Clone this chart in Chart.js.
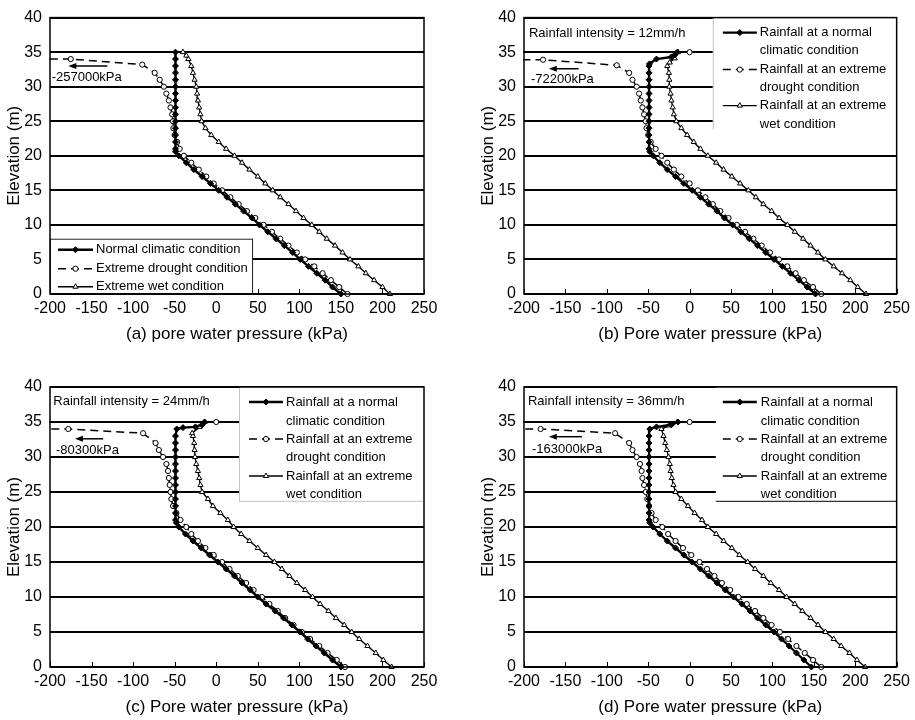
<!DOCTYPE html>
<html>
<head>
<meta charset="utf-8">
<script src="https://cdn.jsdelivr.net/npm/chart.js"></script>
<style>
  body { margin: 0; background: #fff; width: 915px; height: 720px; position: relative; overflow: hidden; }
  canvas { position: absolute; }
</style>
</head>
<body>
<canvas id="ca" width="455" height="360" style="left:0;top:0"></canvas>
<canvas id="cb" width="460" height="360" style="left:455px;top:0"></canvas>
<canvas id="cc" width="455" height="360" style="left:0;top:360px"></canvas>
<canvas id="cd" width="460" height="360" style="left:455px;top:360px"></canvas>
<script>
// ticks
const xTicks = [-200, -150, -100, -50, 0, 50, 100, 150, 200, 250];
const yTicks = [0, 5, 10, 15, 20, 25, 30, 35, 40];

const xTitles = ['(a) pore water pressure (kPa)', '(b) Pore water pressure (kPa)',
                 '(c) Pore water pressure (kPa)', '(d) Pore water pressure (kPa)'];
const intensities = ['', 'Rainfall intensity = 12mm/h', 'Rainfall intensity = 24mm/h', 'Rainfall intensity = 36mm/h'];
const farValues = [-257000, -72200, -80300, -163000];   // kPa, off the left edge

const legendA = ['Normal climatic condition', 'Extreme drought condition', 'Extreme wet condition'];
const legendRain = [['Rainfall at a normal', 'climatic condition'],
                    ['Rainfall at an extreme', 'drought condition'],
                    ['Rainfall at an extreme', 'wet condition']];

// (a) no rainfall
const aNormE = [0,1,2,3,4,5,6,7,8,9,10,11,12,13,14,15,16,17,18,19,20,20.6,21,22,23,24,25,26,27,28,29,30,31,32,33,34,35];
const aNormP = [150,140,131,121,111,101,92,82,72,62,52,43,33,23,13,3,-7,-17,-27,-36,-45,-49,-49,-49,-49,-49,-49,-49,-49,-49,-49,-49,-49,-49,-49,-49,-49];
const aDryE = [0,1,2,3,4,5,6,7,8,9,10,11,12,13,14,15,16,17,18,19,20,21,22,23,24,25,26,27,28,29,30,31,32,33.2,34,35];
const aDryP = [158,148,138,128,118,107,97,87,77,67,57,47,37,27,17,7,-3,-12,-21,-30,-39,-44,-47,-50,-51.5,-52,-53,-55,-57,-60,-63,-68,-74,-89,-175,-257000];
const aWetE = [0,1,2,3,4,5,6,7,8,9,10,11,12,13,14,15,16,17,18,19,20,21,22,23,24,25,26,27,28,29,30,31,32,33,34,34.5,35];
const aWetP = [209,200,190,180,171,161,152,143,133,124,115,105,96,87,77,68,59,50,40,31,22,12,3,-6,-13,-17.5,-19,-20.5,-22,-23,-24,-26,-28,-30,-33.5,-36,-40];

// (b) 12 mm/h
const bNormE = [0,1,2,3,4,5,6,7,8,9,10,11,12,13,14,15,16,17,18,19,20,20.6,21,22,23,24,25,26,27,28,29,30,31,32,33,33.3,34,34.3,34.6,35];
const bNormP = [152,142,132,122,112,102,92,82,72,62,52,42,33,23,13,3,-7,-17,-27,-36,-44,-48,-49,-49,-49,-49,-49,-49,-49,-49,-49,-49,-49,-49,-49,-48.5,-40,-22,-18,-15];
const bDryE = [0,1,2,3,4,5,6,7,8,9,10,11,12,13,14,15,16,17,18,19,20,21,22,23,24,25,26,27,28,29,30,31,32,33.1,33.9,34.6,35];
const bDryP = [159,149,138,128,118,108,97,87,77,67,57,47,37,28,19,10,0,-10,-19,-27,-34,-41,-47,-50,-52,-53,-55,-57,-59,-61,-64,-69,-73,-88,-177,-72200,0];
const bWetE = [0,1,2,3,4,5,6,7,8,9,10,11,12,13,14,15,16,17,18,19,20,21,22,23,24,25,26,27,28,29,30,31,32,33,33.5,34.1,35];
const bWetP = [213,203,194,184,174,164,155,146,137,127,118,108,99,89,80,71,61,51,41,32,22,13,5,-3,-10,-16,-19,-20.5,-22,-23,-24.5,-24.5,-25,-27,-24,-18,-14];

// (c) 24 mm/h
const cNormE = [0,1,2,3,4,5,6,7,8,9,10,11,12,13,14,15,16,17,18,19,20,20.6,21,22,23,24,25,26,27,28,29,30,31,32,33,34,34.2,34.3,34.6,35];
const cNormP = [150,140,130,120,110,101,91,81,71,60,50,41,31,22,12,2,-8,-18,-28,-37,-45,-48,-49,-49,-49,-49,-49,-49,-49,-49,-49,-49,-49,-49,-49,-47.5,-40,-25,-17,-14];
const cDryE = [0,1,2,3,4,5,6,7,8,9,10,11,12,13,14,15,16,17,18,19,20,21,22,23,24,25,26,27,28,29,30,31,32,33.4,34,34.6,35];
const cDryP = [155,145,134,124,113,103,93,83,74,64,55,45,36,26,16,7,-3,-13,-22,-30,-36,-43,-48,-52,-54,-55,-56,-57,-58,-60,-64,-69,-73,-88,-178,-80300,0];
const cWetE = [0,1,2,3,4,5,6,7,8,9,10,11,12,13,14,15,16,17,18,19,20,21,22,23,24,25,26,27,28,29,30,31,32,33,33.4,34.3,35];
const cWetP = [211,201,192,182,172,163,154,144,135,125,116,107,97,88,79,70,60,50,40,30,21,14,5,-4,-10,-17,-19,-20.5,-22,-24,-25.5,-26,-26.5,-28,-29,-20,-14];

// (d) 36 mm/h
const dNormE = [0,1,2,3,4,5,6,7,8,9,10,11,12,13,14,15,16,17,18,19,20,20.6,21,22,23,24,25,26,27,28,29,30,31,32,33,34,34.3,34.6,35];
const dNormP = [147,138,129,120,111,102,92,82,73,63,53,43,33,23,13,3,-7,-17,-27,-36,-44,-48,-49,-49,-49,-49,-49,-49,-49,-49,-49,-49,-49,-49,-49,-48,-40,-22,-14];
const dDryE = [0,1,2,3,4,5,6,7,8,9,10,11,12,13,14,15,16,17,18,19,20,21,22,23,24,25,26,27,28,29,30,31,32,33.4,34,34.6,35];
const dDryP = [159,149,139,129,119,109,99,89,79,69,59,49,39,30,21,12,2,-8,-17,-26,-33,-41,-46,-49,-51,-53,-55,-57,-58,-60,-64,-69,-73,-90,-180,-163000,0];
const dWetE = [0,1,2,3,4,5,6,7,8,9,10,11,12,13,14,15,16,17,18,19,20,21,22,23,24,25,26,27,28,29,30,31,32,33,34,34.5,35];
const dWetP = [212,202,193,183,174,164,155,146,136,127,117,108,98,89,79,70,60,51,41,32,22,15,6,-2,-10,-17,-19.5,-21.5,-23,-24,-25.5,-27.5,-29.5,-31.5,-34,-25,-15];

const series = [
  [[aNormP, aNormE], [aDryP, aDryE], [aWetP, aWetE]],
  [[bNormP, bNormE], [bDryP, bDryE], [bWetP, bWetE]],
  [[cNormP, cNormE], [cDryP, cDryE], [cWetP, cWetE]],
  [[dNormP, dNormE], [dDryP, dDryE], [dWetP, dWetE]]
];

// layout of each panel (box / text positions in data units)
const panels = [
  { id: 'ca', pad: {left: 0, right: 31, top: 15, bottom: 0}, xh: 66, xtp: 15,
    box: [-200, 0, 44.3, 8.0], borders: {l: '#222', r: '#222', t: '#222', b: '#222'},
    rowDy: [11, 30, 48], sx: [8, 43], tx: 46,
    ann: null, far: {x: -198, y: 31.4, ay: 33.0, a0: -131, a1: -178} },
  { id: 'cb', pad: {left: 19, right: 18, top: 15, bottom: 0}, xh: 66, xtp: 15,
    box: [28, 23.8, 250, 40], borders: {l: '#c4c4c4'},
    rowDy: [15, 33, 52, 70, 88, 107], sx: [10, 44], tx: 47,
    ann: {x: -194, y: 37.75}, far: {x: -191.6, y: 31.1, ay: 32.6, a0: -134, a1: -170} },
  { id: 'cc', pad: {left: 0, right: 31, top: 27, bottom: 0}, xh: 53, xtp: 2,
    box: [27.4, 23.6, 250, 40], borders: {l: '#c4c4c4', b: '#c4c4c4'},
    rowDy: [15, 34, 52, 70, 89, 107], sx: [10, 44], tx: 47,
    ann: {x: -196, y: 37.9}, far: {x: -192.8, y: 31.0, ay: 32.6, a0: -136, a1: -170} },
  { id: 'cd', pad: {left: 19, right: 18, top: 27, bottom: 0}, xh: 53, xtp: 2,
    box: [31.6, 23.6, 250, 40], borders: {b: '#000'},
    rowDy: [15, 34, 52, 70, 89, 107], sx: [7, 41], tx: 45,
    ann: {x: -195.2, y: 38.0}, far: {x: -190.3, y: 31.1, ay: 32.9, a0: -130, a1: -170} }
];

const FONT = 'Liberation Sans, Arial, sans-serif';

function marker(ctx, style, x, y, r, fill) {
  ctx.beginPath();
  if (style === 'rectRot') {
    ctx.moveTo(x, y - r); ctx.lineTo(x + r, y); ctx.lineTo(x, y + r); ctx.lineTo(x - r, y); ctx.closePath();
  } else if (style === 'triangle') {
    ctx.moveTo(x, y - r); ctx.lineTo(x + r * 0.87, y + r * 0.5); ctx.lineTo(x - r * 0.87, y + r * 0.5); ctx.closePath();
  } else {
    ctx.arc(x, y, r, 0, Math.PI * 2);
  }
  ctx.setLineDash([]);
  ctx.fillStyle = fill;
  ctx.fill();
  ctx.lineWidth = 1;
  ctx.strokeStyle = '#000';
  ctx.stroke();
}

function makeChart(i) {
  const p = panels[i];
  const labels = i === 0 ? legendA : legendRain;
  const pts = (px, el) => px.map((v, k) => ({x: v, y: el[k]}));
  const clip = {left: 1, top: 8, right: 8, bottom: 8};

  const decor = {
    id: 'decor' + i,
    beforeDatasetsDraw(chart) {
      // small inward tick marks on the x axis
      const ctx = chart.ctx, xs = chart.scales.x, ca = chart.chartArea;
      ctx.save();
      ctx.strokeStyle = '#000';
      ctx.lineWidth = 1;
      xTicks.forEach(v => {
        const x = Math.round(xs.getPixelForValue(v)) + 0.5;
        ctx.beginPath(); ctx.moveTo(x, ca.bottom); ctx.lineTo(x, ca.bottom - 5); ctx.stroke();
      });
      ctx.restore();
    },
    afterDatasetsDraw(chart) {
      const ctx = chart.ctx, xs = chart.scales.x, ys = chart.scales.y, ca = chart.chartArea;
      ctx.save();

      // legend box
      const L = xs.getPixelForValue(p.box[0]), R = xs.getPixelForValue(p.box[2]);
      const T = ys.getPixelForValue(p.box[3]), B = ys.getPixelForValue(p.box[1]);
      ctx.fillStyle = '#fff';
      ctx.fillRect(L, T, R - L, B - T);
      ctx.lineWidth = 1;
      const edge = (c, x0, y0, x1, y1) => {
        if (!c) return;
        ctx.strokeStyle = c; ctx.beginPath(); ctx.moveTo(x0, y0); ctx.lineTo(x1, y1); ctx.stroke();
      };
      edge(p.borders.l, L + 0.5, T, L + 0.5, B);
      edge(p.borders.r, R - 0.5, T, R - 0.5, B);
      edge(p.borders.t, L, T + 0.5, R, T + 0.5);
      edge(p.borders.b, L, B - 0.5, R, B - 0.5);

      ctx.font = '13px ' + FONT;
      ctx.textBaseline = 'middle';
      ctx.textAlign = 'left';
      let row = 0;
      chart.data.datasets.forEach(ds => {
        const lines = Array.isArray(ds.label) ? ds.label : [ds.label];
        lines.forEach((t, j) => {
          const y = T + p.rowDy[row++];
          if (j === 0) {
            ctx.strokeStyle = '#000';
            ctx.lineWidth = ds.borderWidth;
            ctx.setLineDash(ds.borderDash || []);
            ctx.beginPath();
            ctx.moveTo(L + p.sx[0], y); ctx.lineTo(L + p.sx[1], y);
            ctx.stroke();
            marker(ctx, ds.pointStyle, L + (p.sx[0] + p.sx[1]) / 2, y, ds.pointRadius, ds.pointBackgroundColor);
          }
          ctx.fillStyle = '#000';
          ctx.fillText(t, L + p.tx, y);
        });
      });

      // annotations
      ctx.fillStyle = '#000';
      if (p.ann) ctx.fillText(intensities[i], xs.getPixelForValue(p.ann.x), ys.getPixelForValue(p.ann.y));
      ctx.fillText(farValues[i] + 'kPa', xs.getPixelForValue(p.far.x), ys.getPixelForValue(p.far.y));
      const ay = ys.getPixelForValue(p.far.ay);
      const a0 = xs.getPixelForValue(p.far.a0), a1 = xs.getPixelForValue(p.far.a1);
      ctx.setLineDash([]);
      ctx.strokeStyle = '#000';
      ctx.lineWidth = 1.5;
      ctx.beginPath(); ctx.moveTo(a0, ay); ctx.lineTo(a1 + 6, ay); ctx.stroke();
      ctx.beginPath(); ctx.moveTo(a1, ay); ctx.lineTo(a1 + 8, ay - 3); ctx.lineTo(a1 + 8, ay + 3); ctx.closePath();
      ctx.fill();

      // frame
      ctx.lineWidth = 1.5;
      ctx.strokeRect(ca.left, ca.top, ca.right - ca.left, ca.bottom - ca.top);
      ctx.restore();
    }
  };

  const s = series[i];
  return new Chart(document.getElementById(p.id), {
    type: 'scatter',
    data: {
      datasets: [
        { label: labels[0], data: pts(s[0][0], s[0][1]), showLine: true, clip: clip,
          borderColor: '#000', borderWidth: 2.4, pointStyle: 'rectRot', pointRadius: 3,
          pointBackgroundColor: '#000', pointBorderColor: '#000', pointBorderWidth: 1 },
        { label: labels[1], data: pts(s[1][0], s[1][1]), showLine: true, clip: clip,
          borderColor: '#000', borderWidth: 1.5, borderDash: [8, 5], pointStyle: 'circle', pointRadius: 2.6,
          pointBackgroundColor: '#fff', pointBorderColor: '#000', pointBorderWidth: 1 },
        { label: labels[2], data: pts(s[2][0], s[2][1]), showLine: true, clip: clip,
          borderColor: '#000', borderWidth: 1.4, pointStyle: 'triangle', pointRadius: 3,
          pointBackgroundColor: '#fff', pointBorderColor: '#000', pointBorderWidth: 1 }
      ]
    },
    options: {
      responsive: false,
      animation: false,
      events: [],
      layout: { padding: p.pad },
      plugins: { legend: { display: false }, tooltip: { enabled: false } },
      scales: {
        x: {
          type: 'linear', min: -200, max: 250,
          afterBuildTicks: sc => { sc.ticks = xTicks.map(v => ({value: v})); },
          afterFit: sc => { sc.height = p.xh; },
          grid: { display: false, drawTicks: false },
          border: { display: false },
          ticks: { color: '#000', font: { family: FONT, size: 16 }, padding: 5, maxRotation: 0, autoSkip: false },
          title: { display: true, text: xTitles[i], color: '#000', font: { family: FONT, size: 17 },
                   padding: { top: 0, bottom: p.xtp } }
        },
        y: {
          type: 'linear', min: 0, max: 40,
          afterBuildTicks: sc => { sc.ticks = yTicks.map(v => ({value: v})); },
          afterFit: sc => { sc.width = 50; },
          grid: { color: '#000', lineWidth: 2, drawTicks: false },
          border: { display: false },
          ticks: { color: '#000', font: { family: FONT, size: 16 }, padding: 8, autoSkip: false },
          title: { display: true, text: 'Elevation (m)', color: '#000', font: { family: FONT, size: 17 },
                   padding: { top: 3.8, bottom: 0 } }
        }
      }
    },
    plugins: [decor]
  });
}

panels.forEach((p, i) => makeChart(i));
</script>
</body>
</html>
